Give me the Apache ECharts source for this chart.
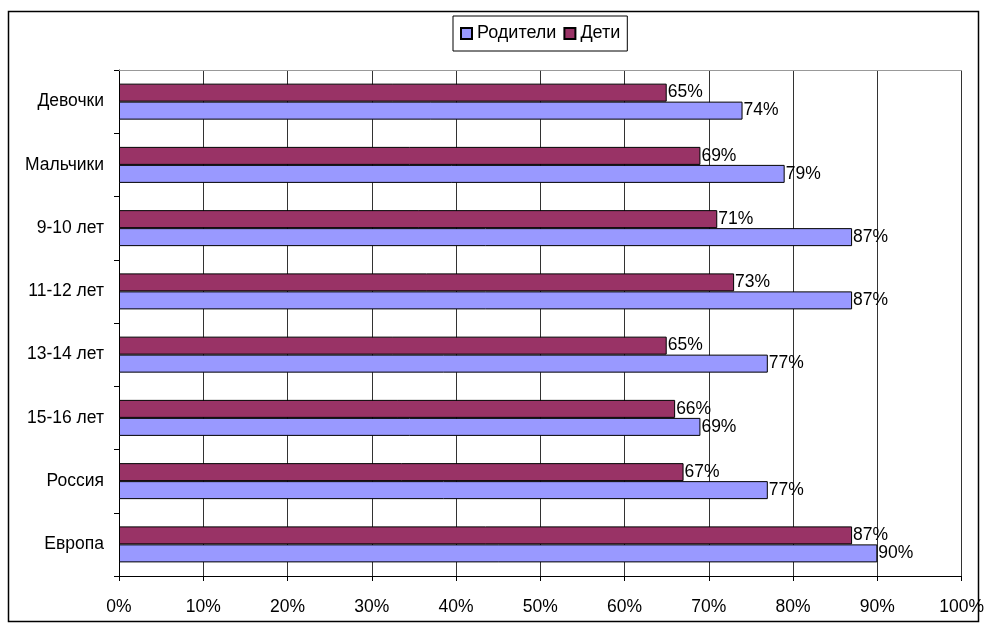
<!DOCTYPE html>
<html style="height: 100%">
<head>
  <meta charset="utf-8">
  <script src="https://cdn.jsdelivr.net/npm/echarts@6/dist/echarts.min.js"></script>
</head>
<body style="height: 100%; margin: 0; background: #fff;">
  <div id="container" style="width: 987px; height: 629px;"></div>
  <script type="text/javascript">
    // категории снизу вверх (как идёт ось Y)
    var categories = ['Европа', 'Россия', '15-16 лет', '13-14 лет', '11-12 лет', '9-10 лет', 'Мальчики', 'Девочки'];
    var parents = [90, 77, 69, 77, 87, 87, 79, 74];
    var children = [87, 67, 66, 65, 73, 71, 69, 65];
    var xTicks = [0, 10, 20, 30, 40, 50, 60, 70, 80, 90, 100];

    var font = 'Liberation Sans, Arial, sans-serif';
    var myChart = echarts.init(document.getElementById('container'));

    var labelStyle = {
      show: true,
      position: 'right',
      distance: 1,
      color: '#000',
      fontSize: 17.5,
      fontFamily: font,
      formatter: '{c}%'
    };

    var option = {
      animation: false,
      textStyle: { fontFamily: font },
      graphic: [{
        type: 'rect',
        shape: { x: 8.5, y: 11.5, width: 970, height: 610 },
        style: { fill: 'none', stroke: '#000', lineWidth: 1.5 },
        z: 100
      }],
      legend: {
        data: ['Родители', 'Дети'],
        top: 16,
        left: 453,
        icon: 'rect',
        itemWidth: 11,
        itemHeight: 11,
        itemGap: 7,
        padding: [7, 7, 7, 7],
        borderColor: '#000',
        borderWidth: 1,
        textStyle: { color: '#000', fontSize: 18, lineHeight: 21, fontFamily: font }
      },
      grid: { left: 119, right: 21, top: 70, bottom: 53, containLabel: false },
      xAxis: [{
        type: 'value',
        min: 0,
        max: 100,
        interval: 10,
        axisLine: { show: true, lineStyle: { color: '#000', width: 1 } },
        axisTick: { show: true, length: 5, lineStyle: { color: '#000' } },
        axisLabel: { color: '#000', fontSize: 17.5, fontFamily: font, margin: 22, formatter: function (v) { return xTicks.indexOf(v) >= 0 ? v + '%' : ''; } },
        splitLine: { show: true, lineStyle: { color: '#333', width: 1 } }
      }, {
        type: 'value',
        position: 'top',
        min: 0,
        max: 100,
        interval: 10,
        axisLine: { show: true, lineStyle: { color: '#999', width: 1 } },
        axisTick: { show: false },
        axisLabel: { show: false },
        splitLine: { show: false }
      }],
      yAxis: {
        type: 'category',
        data: categories,
        axisLine: { show: true, lineStyle: { color: '#000', width: 1 } },
        axisTick: { show: true, length: 5, lineStyle: { color: '#000' } },
        axisLabel: { color: '#000', fontSize: 17.5, fontFamily: font, margin: 15 },
        splitLine: { show: false }
      },
      // Дети первой — у горизонтальных столбиков первая серия идёт сверху
      series: [{
        name: 'Дети',
        type: 'bar',
        data: children,
        barWidth: 18,
        barGap: '0%',
        itemStyle: { color: '#993366', borderColor: '#000', borderWidth: 1 },
        label: labelStyle
      }, {
        name: 'Родители',
        type: 'bar',
        data: parents,
        barWidth: 18,
        barGap: '0%',
        itemStyle: { color: '#9999FF', borderColor: '#000', borderWidth: 1 },
        label: labelStyle
      }]
    };
    myChart.setOption(option);
  </script>
</body>
</html>
